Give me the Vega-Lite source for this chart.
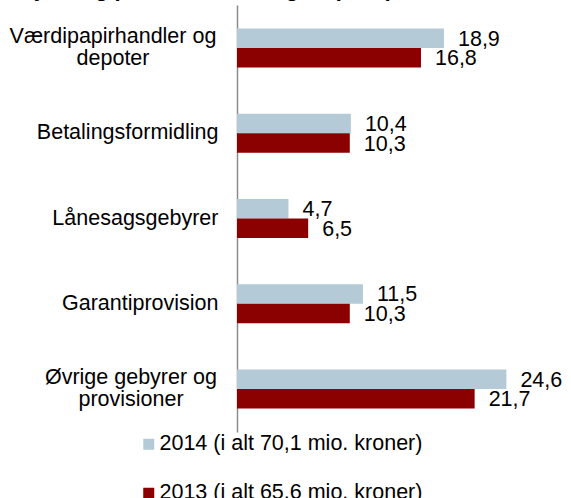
{
  "$schema": "https://vega.github.io/schema/vega-lite/v6.json",
  "width": 334,
  "height": 427,
  "autosize": {"type": "none"},
  "padding": {"left": 237, "top": 5, "right": 0, "bottom": 66},
  "title": {
    "text": "Gebyrer og provisionsindtægter (mio.)",
    "anchor": "start",
    "frame": "group",
    "dx": -246,
    "offset": -12.5,
    "baseline": "alphabetic",
    "font": "Liberation Sans",
    "fontSize": 22,
    "fontWeight": "bold",
    "color": "#000000"
  },
  "config": {
    "view": {"stroke": null},
    "font": "Liberation Sans",
    "locale": {"number": {"decimal": ",", "thousands": ".", "grouping": [3], "currency": ["", " kr."]}}
  },
  "data": {
    "values": [
      {"kategori": "Værdipapirhandler og depoter", "aar": "2014 (i alt 70,1 mio. kroner)", "vaerdi": 18.9},
      {"kategori": "Værdipapirhandler og depoter", "aar": "2013 (i alt 65,6 mio. kroner)", "vaerdi": 16.8},
      {"kategori": "Betalingsformidling", "aar": "2014 (i alt 70,1 mio. kroner)", "vaerdi": 10.4},
      {"kategori": "Betalingsformidling", "aar": "2013 (i alt 65,6 mio. kroner)", "vaerdi": 10.3},
      {"kategori": "Lånesagsgebyrer", "aar": "2014 (i alt 70,1 mio. kroner)", "vaerdi": 4.7},
      {"kategori": "Lånesagsgebyrer", "aar": "2013 (i alt 65,6 mio. kroner)", "vaerdi": 6.5},
      {"kategori": "Garantiprovision", "aar": "2014 (i alt 70,1 mio. kroner)", "vaerdi": 11.5},
      {"kategori": "Garantiprovision", "aar": "2013 (i alt 65,6 mio. kroner)", "vaerdi": 10.3},
      {"kategori": "Øvrige gebyrer og provisioner", "aar": "2014 (i alt 70,1 mio. kroner)", "vaerdi": 24.6},
      {"kategori": "Øvrige gebyrer og provisioner", "aar": "2013 (i alt 65,6 mio. kroner)", "vaerdi": 21.7}
    ]
  },
  "encoding": {
    "y": {
      "field": "kategori",
      "type": "nominal",
      "sort": null,
      "scale": {"paddingInner": 0.5425, "paddingOuter": 0.276},
      "axis": {
        "title": null,
        "ticks": false,
        "domainColor": "#8c8c8c",
        "domainWidth": 1.5,
        "labelFont": "Liberation Sans",
        "labelFontSize": 21.5,
        "labelColor": "#000000",
        "labelLimit": 400,
        "labelLineHeight": 22,
        "labelAlign": {"condition": {"test": "datum.value == 'Værdipapirhandler og depoter' || datum.value == 'Øvrige gebyrer og provisioner'", "value": "center"}, "value": "right"},
        "labelOffset": {"condition": {"test": "datum.value == 'Værdipapirhandler og depoter' || datum.value == 'Øvrige gebyrer og provisioner'", "value": -11}, "value": 0},
        "labelPadding": {"condition": [
          {"test": "datum.value == 'Værdipapirhandler og depoter'", "value": 124.5},
          {"test": "datum.value == 'Øvrige gebyrer og provisioner'", "value": 106.5}
        ], "value": 19},
        "labelExpr": "datum.value == 'Værdipapirhandler og depoter' ? ['Værdipapirhandler og', 'depoter'] : datum.value == 'Øvrige gebyrer og provisioner' ? ['Øvrige gebyrer og', 'provisioner'] : datum.value"
      }
    },
    "yOffset": {
      "field": "aar",
      "type": "nominal",
      "sort": ["2014 (i alt 70,1 mio. kroner)", "2013 (i alt 65,6 mio. kroner)"],
      "scale": {"paddingInner": 0, "paddingOuter": 0}
    },
    "x": {
      "field": "vaerdi",
      "type": "quantitative",
      "scale": {"domain": [0, 30.5], "nice": false},
      "axis": null
    }
  },
  "layer": [
    {
      "mark": {"type": "bar"},
      "encoding": {
        "color": {
          "field": "aar",
          "type": "nominal",
          "scale": {"domain": ["2014 (i alt 70,1 mio. kroner)", "2013 (i alt 65,6 mio. kroner)"], "range": ["#b5cad7", "#8b0000"]},
          "legend": {
            "title": null,
            "orient": "none",
            "legendX": -99,
            "legendY": 428.5,
            "direction": "vertical",
            "symbolType": "square",
            "symbolSize": 121,
            "symbolStrokeWidth": 0,
            "labelFont": "Liberation Sans",
            "labelFontSize": 21.5,
            "labelColor": "#000000",
            "labelOffset": 0,
            "labelLimit": 500,
            "rowPadding": 26
          }
        }
      }
    },
    {
      "mark": {"type": "text", "align": "left", "baseline": "middle", "dx": 14, "dy": 1.5, "fontSize": 21.5, "font": "Liberation Sans", "color": "#000000"},
      "encoding": {
        "text": {"field": "vaerdi", "type": "quantitative", "format": ".1f"}
      }
    }
  ]
}
